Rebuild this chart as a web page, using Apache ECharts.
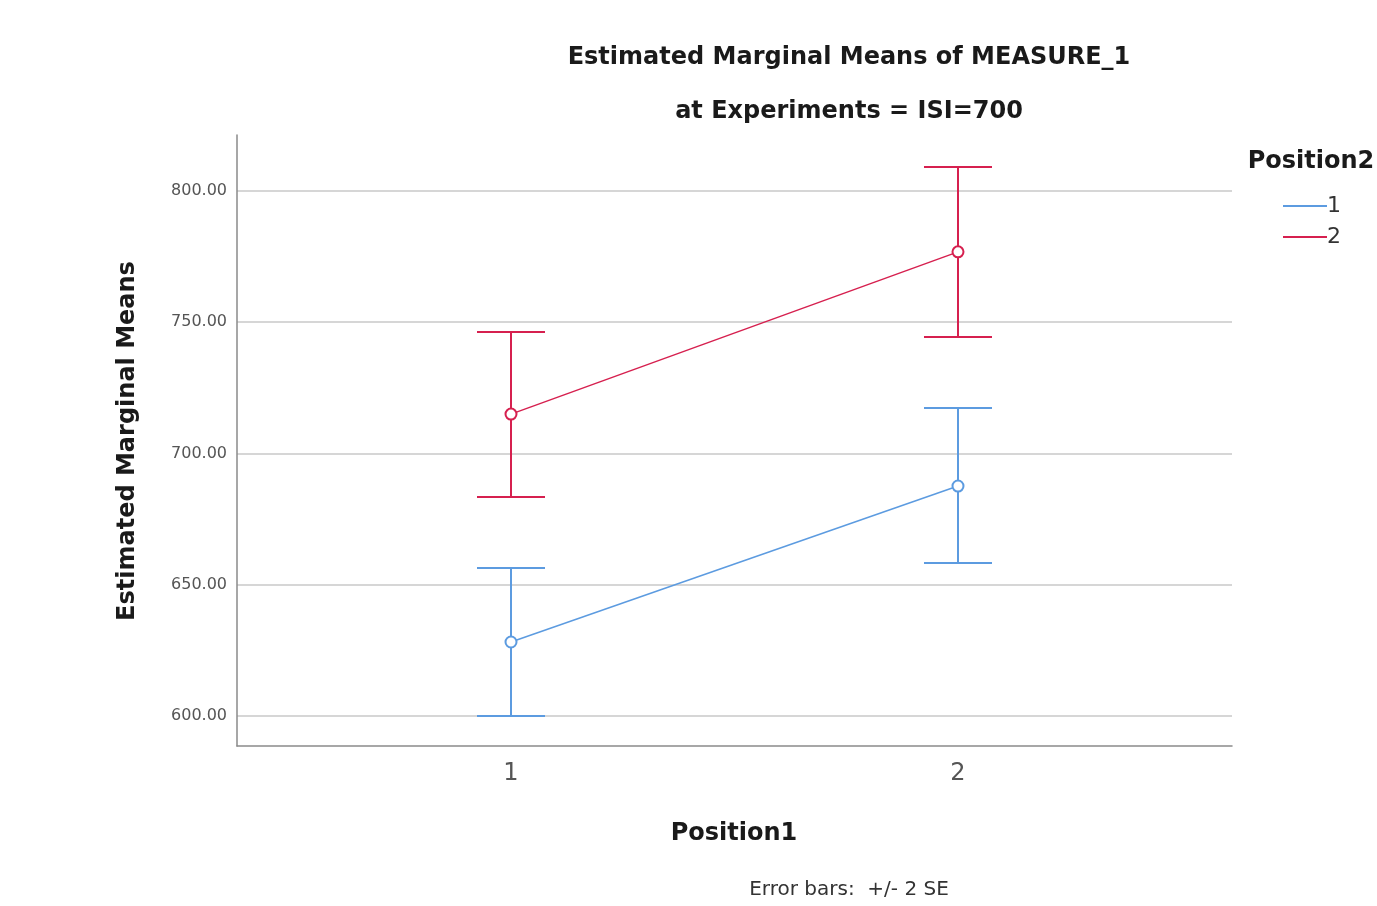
<!DOCTYPE html>
<html>
<head>
<meta charset="utf-8">
<script src="https://cdn.jsdelivr.net/npm/echarts@6/dist/echarts.min.js"></script>
<style>
html,body{margin:0;padding:0;background:#fff;}
#chart{width:1377px;height:906px;}
</style>
</head>
<body>
<div id="chart"></div>
<script>
// ---- data ----
const position1 = [1, 2];
const groupNames = ['1', '2'];
const means1 = [628.2, 687.6];
const lower1 = [600.0, 658.3];
const upper1 = [656.4, 717.3];
const means2 = [715.0, 776.8];
const lower2 = [683.4, 744.4];
const upper2 = [746.3, 809.1];
const yTicks = [600, 650, 700, 750, 800];
const xTicks = [1, 2];

const colors = ['#5c9be0', '#d6204f'];
const FONT = 'DejaVu Sans';

const chart = echarts.init(document.getElementById('chart'), null, {renderer: 'canvas'});

function lineData(means) { return position1.map((x, i) => [x, means[i]]); }
function barData(lo, hi) { return position1.map((x, i) => [x, lo[i], hi[i]]); }

function errRender(color) {
  return function (params, api) {
    const x = api.value(0);
    const p1 = api.coord([x, api.value(1)]);
    const p2 = api.coord([x, api.value(2)]);
    const half = 34;
    const st = {stroke: color, lineWidth: 2};
    return {
      type: 'group',
      children: [
        {type: 'line', shape: {x1: p1[0], y1: p1[1], x2: p2[0], y2: p2[1]}, style: st},
        {type: 'line', shape: {x1: p1[0] - half, y1: p1[1], x2: p1[0] + half, y2: p1[1]}, style: st},
        {type: 'line', shape: {x1: p2[0] - half, y1: p2[1], x2: p2[0] + half, y2: p2[1]}, style: st}
      ]
    };
  };
}

const option = {
  backgroundColor: '#ffffff',
  animation: false,
  grid: {left: 237, right: 145, top: 135, bottom: 160, containLabel: false},
  xAxis: {
    type: 'value', min: 0.387, max: 2.613,
    axisLine: {show: true, lineStyle: {color: '#8a8a8a', width: 1.5}},
    axisTick: {show: false, customValues: xTicks},
    splitLine: {show: false},
    axisLabel: {customValues: xTicks, margin: 16, fontFamily: FONT, fontSize: 24, color: '#555555',
      formatter: v => String(Math.round(v))}
  },
  yAxis: {
    type: 'value', min: 588.6, max: 821.3,
    axisLine: {show: true, lineStyle: {color: '#8a8a8a', width: 1.5}},
    axisTick: {show: false, customValues: yTicks},
    splitLine: {show: true, lineStyle: {color: '#c8c8c8', width: 1.5}},
    axisLabel: {customValues: yTicks, margin: 10, fontFamily: FONT, fontSize: 16, color: '#555555',
      padding: [4, 0, 0, 0],
      formatter: v => v.toFixed(2)}
  },
  legend: {
    data: groupNames,
    orient: 'vertical',
    left: 1278, top: 190,
    itemWidth: 44, itemHeight: 2, itemGap: 9,
    icon: 'rect',
    textStyle: {fontFamily: FONT, fontSize: 22, color: '#333333', padding: [0,0,0,-5]},
    selectedMode: false
  },
  graphic: [
    {type: 'text', x: 849, y: 58, style: {text: 'Estimated Marginal Means of MEASURE_1', font: 'bold 24px "DejaVu Sans"', fill: '#1a1a1a', textAlign: 'center', textVerticalAlign: 'middle'}},
    {type: 'text', x: 849, y: 112, style: {text: 'at Experiments = ISI=700', font: 'bold 24px "DejaVu Sans"', fill: '#1a1a1a', textAlign: 'center', textVerticalAlign: 'middle'}},
    {type: 'text', x: 734, y: 834, style: {text: 'Position1', font: 'bold 24px "DejaVu Sans"', fill: '#1a1a1a', textAlign: 'center', textVerticalAlign: 'middle'}},
    {type: 'text', x: 849, y: 890, style: {text: 'Error bars:  +/- 2 SE', font: '20px "DejaVu Sans"', fill: '#333333', textAlign: 'center', textVerticalAlign: 'middle'}},
    {type: 'text', x: 1311, y: 162, style: {text: 'Position2', font: 'bold 24px "DejaVu Sans"', fill: '#1a1a1a', textAlign: 'center', textVerticalAlign: 'middle'}},
    {type: 'text', x: 128, y: 441, rotation: Math.PI / 2, style: {text: 'Estimated Marginal Means', font: 'bold 24px "DejaVu Sans"', fill: '#1a1a1a', textAlign: 'center', textVerticalAlign: 'middle'}}
  ],
  series: [
    {name: groupNames[0], type: 'line', data: lineData(means1), symbol: 'emptyCircle', symbolSize: 11,
      itemStyle: {color: colors[0], borderWidth: 1.5}, lineStyle: {color: colors[0], width: 1.5}, z: 3},
    {name: groupNames[1], type: 'line', data: lineData(means2), symbol: 'emptyCircle', symbolSize: 11,
      itemStyle: {color: colors[1], borderWidth: 1.5}, lineStyle: {color: colors[1], width: 1.5}, z: 3},
    {name: 'err1', type: 'custom', data: barData(lower1, upper1), renderItem: errRender(colors[0]), encode: {x: 0, y: [1, 2]}, z: 2},
    {name: 'err2', type: 'custom', data: barData(lower2, upper2), renderItem: errRender(colors[1]), encode: {x: 0, y: [1, 2]}, z: 2}
  ]
};
chart.setOption(option);
</script>
</body>
</html>
